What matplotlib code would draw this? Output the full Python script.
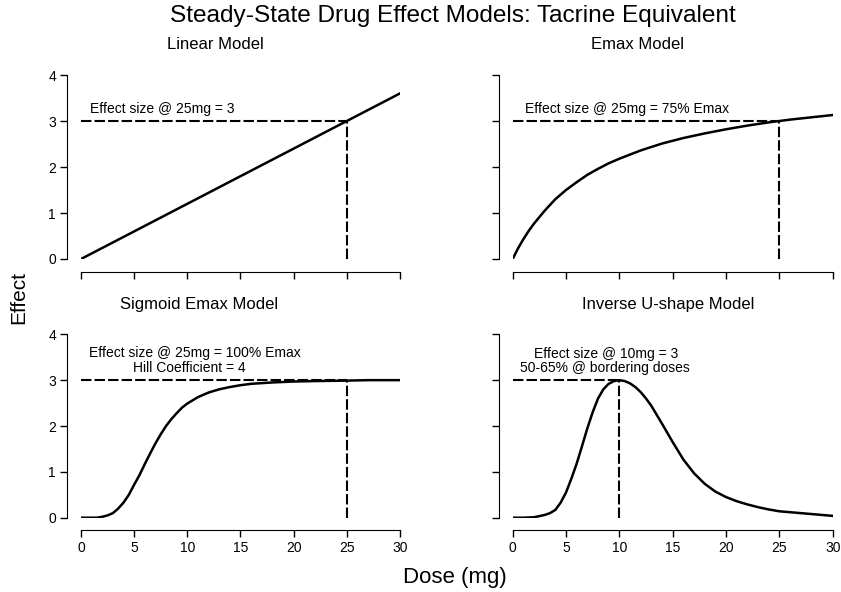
import matplotlib
matplotlib.use("Agg")
import matplotlib.pyplot as plt

plt.rcParams['font.family'] = ['Liberation Sans', 'DejaVu Sans']

# values
linear_dose = [0, 5, 10, 15, 20, 25, 30]
linear_effect = [0, 0.6, 1.2, 1.8, 2.4, 3.0, 3.6]

emax_dose = [0, 0.5, 1, 1.5, 2, 3, 4, 5, 6, 7, 8, 9, 10, 12, 14, 16, 18, 20, 22, 24, 25,
             26, 28, 30]
emax_effect = [0, 0.23, 0.43, 0.61, 0.77, 1.05, 1.3, 1.5, 1.67, 1.83, 1.96, 2.08, 2.18,
               2.36, 2.51, 2.63, 2.73, 2.82, 2.9, 2.97, 3.0, 3.03, 3.08, 3.13]

sig_dose = [0, 1, 1.5, 2, 2.5, 3, 3.5, 4, 4.5, 5, 5.5, 6, 6.5, 7, 7.5, 8, 8.5, 9, 9.5,
            10, 11, 12, 13, 14, 15, 16, 18, 20, 22, 25, 27, 30]
sig_effect = [0, 0, 0, 0.02, 0.05, 0.1, 0.2, 0.33, 0.5, 0.72, 0.93, 1.17, 1.4, 1.62,
              1.82, 2.0, 2.15, 2.28, 2.4, 2.49, 2.63, 2.73, 2.8, 2.85, 2.89, 2.92, 2.95,
              2.97, 2.98, 2.99, 3.0, 3.0]

invu_dose = [0, 1, 2, 3, 3.5, 4, 4.5, 5, 5.5, 6, 6.5, 7, 7.5, 8, 8.5, 9, 9.5, 10, 10.5,
             11, 11.5, 12, 12.5, 13, 14, 15, 16, 17, 18, 19, 20, 21, 22, 23, 24, 25, 26,
             27, 28, 29, 30]
invu_effect = [0, 0, 0.01, 0.06, 0.1, 0.17, 0.33, 0.55, 0.85, 1.18, 1.56, 1.95, 2.3,
               2.6, 2.8, 2.92, 2.98, 3.0, 2.98, 2.93, 2.85, 2.74, 2.6, 2.44, 2.05, 1.65,
               1.27, 0.97, 0.74, 0.57, 0.45, 0.36, 0.29, 0.23, 0.18, 0.14, 0.12, 0.1,
               0.08, 0.06, 0.04]

titles = ["Linear Model", "Emax Model", "Sigmoid Emax Model", "Inverse U-shape Model"]
title_x = [0.42, 0.39, 0.37, 0.485]
ref_dose = [25, 25, 25, 10]
ref_effect = [3, 3, 3, 3]

fig = plt.figure(figsize=(8.41, 5.92), dpi=100)

boxes = [
    [0.0963, 0.5625, 0.3793, 0.3108],
    [0.6096, 0.5625, 0.3805, 0.3108],
    [0.0963, 0.1255, 0.3793, 0.3098],
    [0.6096, 0.1255, 0.3805, 0.3098],
]
curves = [(linear_dose, linear_effect), (emax_dose, emax_effect),
          (sig_dose, sig_effect), (invu_dose, invu_effect)]

dash = (0, (5, 1.5))
axes = []
for i, box in enumerate(boxes):
    ax = fig.add_axes(box)
    axes.append(ax)
    x, y = curves[i]
    ax.plot(x, y, color="black", lw=1.8, solid_joinstyle="round")
    ax.plot([0, ref_dose[i]], [ref_effect[i], ref_effect[i]], color="black", lw=1.5,
            linestyle=dash)
    ax.plot([ref_dose[i], ref_dose[i]], [0, ref_effect[i]], color="black", lw=1.5,
            linestyle=dash)
    ax.set_xlim(0, 30)
    ax.set_ylim(0, 4)
    ax.set_xticks([0, 5, 10, 15, 20, 25, 30])
    ax.set_yticks([0, 1, 2, 3, 4])
    ax.spines['top'].set_visible(False)
    ax.spines['right'].set_visible(False)
    ax.spines['left'].set_position(('outward', 10))
    ax.spines['bottom'].set_position(('outward', 9))
    ax.tick_params(direction='out', length=5, width=1, labelsize=10, pad=3)
    ax.text(title_x[i], 1.165, titles[i], fontsize=12, ha="center", va="center",
            transform=ax.transAxes)
    if i < 2:
        ax.set_xticklabels([])
    if i % 2 == 1:
        ax.set_yticklabels([])

axes[0].text(0.85, 3.26, "Effect size @ 25mg = 3", fontsize=10, va="center")
axes[1].text(1.15, 3.26, "Effect size @ 25mg = 75% Emax", fontsize=10, va="center")
axes[2].text(10.7, 3.59, "Effect size @ 25mg = 100% Emax", fontsize=10,
             va="center", ha="center")
axes[2].text(10.2, 3.27, "Hill Coefficient = 4", fontsize=10, va="center", ha="center")
axes[3].text(8.75, 3.57, "Effect size @ 10mg = 3", fontsize=10, va="center", ha="center")
axes[3].text(8.6, 3.27, "50-65% @ bordering doses", fontsize=10, va="center",
             ha="center")

fig.text(0.538, 0.973, "Steady-State Drug Effect Models: Tacrine Equivalent",
         fontsize=17.6, ha="center", va="center")
fig.text(0.022, 0.498, "Effect", fontsize=15, rotation=90, ha="center", va="center")
fig.text(0.541, 0.024, "Dose (mg)", fontsize=16, ha="center", va="center")

fig.savefig("out.png", dpi=100)
plt.close(fig)
